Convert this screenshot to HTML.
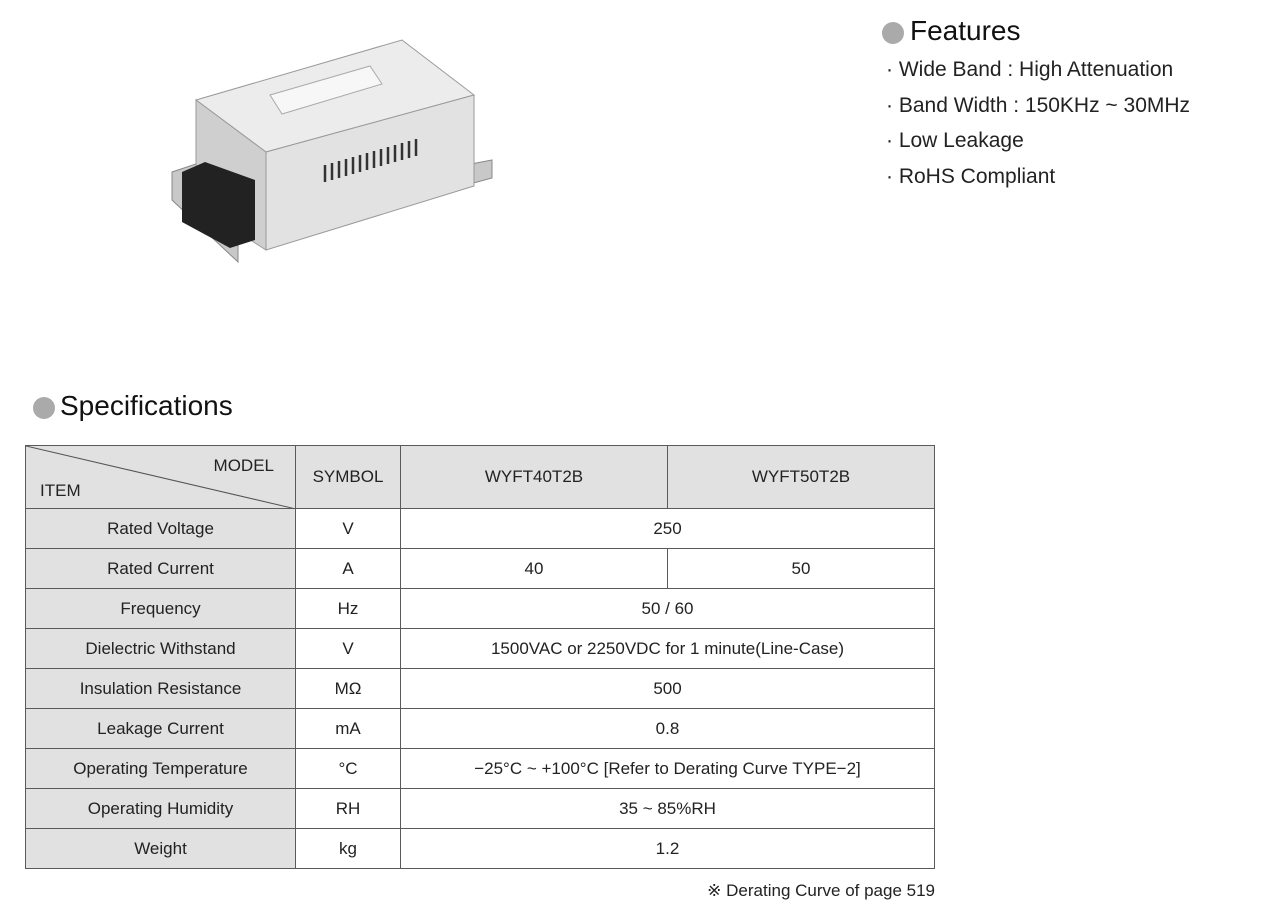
<!DOCTYPE html>
<html><head><meta charset="utf-8"><style>
body{margin:0;width:1269px;height:909px;background:#fff;font-family:"Liberation Sans",sans-serif;color:#222;position:relative;overflow:hidden}
.t{position:absolute;white-space:nowrap}
table{position:absolute;left:25px;top:445px;border-collapse:collapse;font-size:17px}
td{border:1px solid #5a5a5a;text-align:center;height:39px;padding:0}
.g{background:#e1e1e1}
</style></head><body>
<svg class="t" style="left:0;top:0" width="520" height="280">
<polygon points="172,172 238,150 238,262 172,200" fill="#c8c8c8" stroke="#888"/>
<polygon points="440,170 492,160 492,178 440,192" fill="#c8c8c8" stroke="#888"/>
<polygon points="196,100 402,40 474,95 266,152" fill="#ececec" stroke="#999"/>
<polygon points="196,100 266,152 266,250 196,205" fill="#cfcfcf" stroke="#999"/>
<polygon points="266,152 474,95 474,186 266,250" fill="#e2e2e2" stroke="#999"/>
<polygon points="270,95 370,66 382,84 282,114" fill="#f7f7f7" stroke="#aaa"/>
<g stroke="#333" stroke-width="2.5">
<line x1="325" y1="165" x2="325" y2="182"/><line x1="332" y1="163" x2="332" y2="180"/><line x1="339" y1="161" x2="339" y2="178"/><line x1="346" y1="159" x2="346" y2="176"/><line x1="353" y1="157" x2="353" y2="174"/><line x1="360" y1="155" x2="360" y2="172"/><line x1="367" y1="153" x2="367" y2="170"/><line x1="374" y1="151" x2="374" y2="168"/><line x1="381" y1="149" x2="381" y2="166"/><line x1="388" y1="147" x2="388" y2="164"/><line x1="395" y1="145" x2="395" y2="162"/><line x1="402" y1="143" x2="402" y2="160"/><line x1="409" y1="141" x2="409" y2="158"/><line x1="416" y1="139" x2="416" y2="156"/>
</g>
<polygon points="182,172 205,162 255,180 255,240 230,248 182,222" fill="#222"/>
</svg>
<div class="t" style="left:882px;top:22px;width:22px;height:22px;border-radius:50%;background:#aaa"></div>
<div class="t" style="left:910px;top:15px;font-size:28px;color:#111">Features</div>
<div class="t" style="left:886px;top:52px;font-size:21px;line-height:35.5px">· Wide Band : High Attenuation<br>· Band Width : 150KHz ~ 30MHz<br>· Low Leakage<br>· RoHS Compliant</div>
<div class="t" style="left:33px;top:397px;width:22px;height:22px;border-radius:50%;background:#aaa"></div>
<div class="t" style="left:60px;top:390px;font-size:28px;color:#111">Specifications</div>
<table>
<tr style="height:63px"><td class="g" style="width:269px;position:relative;height:62px"><svg style="position:absolute;left:0;top:0" width="270" height="63"><line x1="0" y1="0" x2="270" y2="63" stroke="#555"/></svg><span class="t" style="right:21px;top:10px">MODEL</span><span class="t" style="left:14px;top:35px">ITEM</span></td><td class="g" style="width:104px">SYMBOL</td><td class="g" style="width:266px">WYFT40T2B</td><td class="g" style="width:266px">WYFT50T2B</td></tr>
<tr><td class="g">Rated Voltage</td><td>V</td><td colspan="2">250</td></tr>
<tr><td class="g">Rated Current</td><td>A</td><td>40</td><td>50</td></tr>
<tr><td class="g">Frequency</td><td>Hz</td><td colspan="2">50 / 60</td></tr>
<tr><td class="g">Dielectric Withstand</td><td>V</td><td colspan="2">1500VAC or 2250VDC for 1 minute(Line-Case)</td></tr>
<tr><td class="g">Insulation Resistance</td><td>MΩ</td><td colspan="2">500</td></tr>
<tr><td class="g">Leakage Current</td><td>mA</td><td colspan="2">0.8</td></tr>
<tr><td class="g">Operating Temperature</td><td>°C</td><td colspan="2">−25°C ~ +100°C [Refer to Derating Curve TYPE−2]</td></tr>
<tr><td class="g">Operating Humidity</td><td>RH</td><td colspan="2">35 ~ 85%RH</td></tr>
<tr><td class="g">Weight</td><td>kg</td><td colspan="2">1.2</td></tr>
</table>
<div class="t" style="right:334px;top:881px;font-size:17px">※ Derating Curve of page 519</div>
</body></html>
